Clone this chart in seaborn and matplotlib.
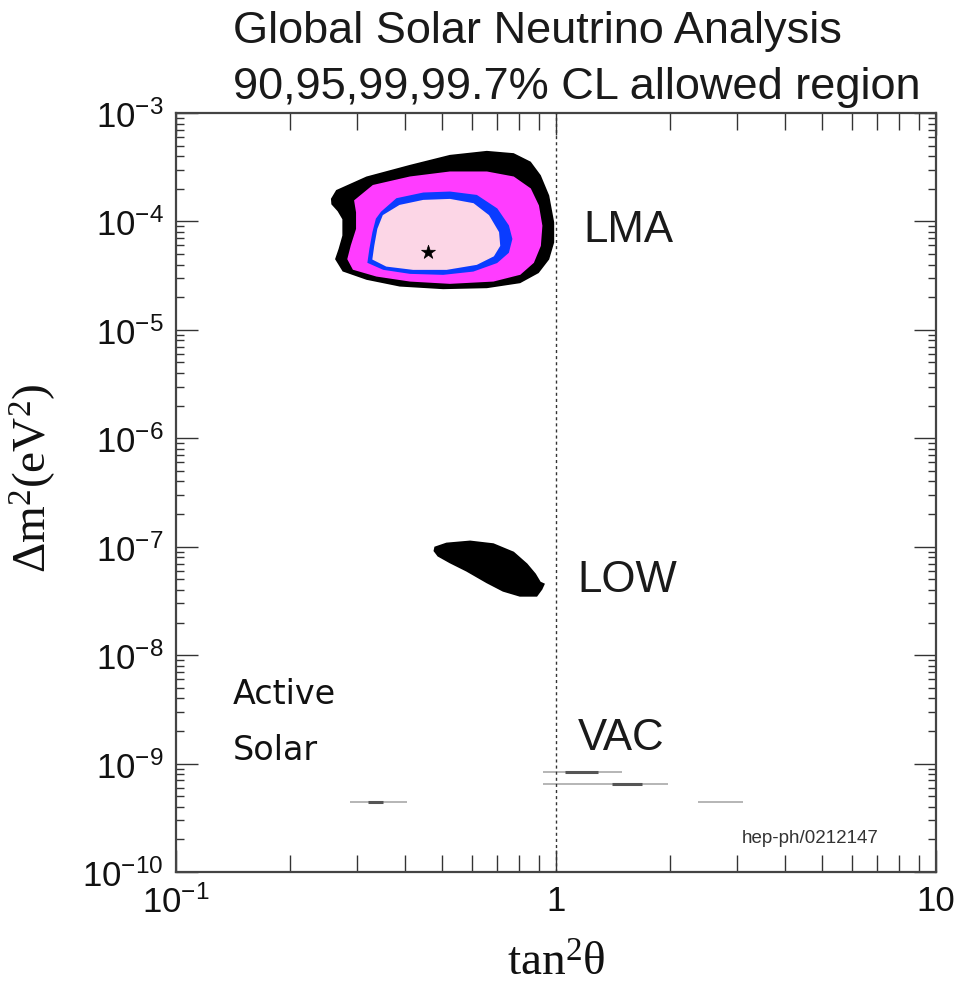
import numpy as np
import pandas as pd
import matplotlib
matplotlib.use("Agg")
import matplotlib.pyplot as plt
import seaborn as sns
from matplotlib.ticker import LogLocator, NullFormatter, FixedLocator, FixedFormatter

# ---------------- data (log10 of tan^2(theta) and of dm^2 [eV^2]) ----------------
lma997_log_tan2 = [-0.589, -0.590, -0.577, -0.498, -0.384, -0.279, -0.182, -0.112, -0.068, -0.042,
                   -0.020, -0.007, -0.007, -0.020, -0.047, -0.095, -0.182, -0.297, -0.411, -0.498,
                   -0.560, -0.579, -0.570, -0.560, -0.560, -0.573]
lma997_log_dm2 = [-3.839, -3.793, -3.717, -3.593, -3.486, -3.394, -3.357, -3.378, -3.455, -3.578,
                  -3.763, -4.008, -4.193, -4.347, -4.470, -4.562, -4.608, -4.617, -4.593, -4.531,
                  -4.455, -4.347, -4.255, -4.132, -3.978, -3.901]

lma99_log_tan2 = [-0.529, -0.481, -0.384, -0.279, -0.182, -0.112, -0.068, -0.047, -0.038, -0.042,
                  -0.060, -0.095, -0.165, -0.279, -0.384, -0.472, -0.533, -0.547, -0.538, -0.524, -0.524]
lma99_log_dm2 = [-3.809, -3.671, -3.593, -3.547, -3.547, -3.593, -3.701, -3.855, -4.040, -4.224,
                 -4.377, -4.485, -4.547, -4.568, -4.547, -4.501, -4.439, -4.347, -4.224, -4.070, -3.916]

lma95_log_tan2 = [-0.459, -0.419, -0.349, -0.279, -0.209, -0.156, -0.126, -0.117, -0.126, -0.156,
                  -0.218, -0.297, -0.384, -0.454, -0.494, -0.489, -0.481, -0.472]
lma95_log_dm2 = [-3.916, -3.793, -3.741, -3.732, -3.763, -3.886, -4.040, -4.162, -4.285, -4.377,
                 -4.455, -4.485, -4.476, -4.439, -4.377, -4.255, -4.101, -3.978]

lma90_log_tan2 = [-0.454, -0.411, -0.349, -0.279, -0.218, -0.178, -0.152, -0.149, -0.165, -0.209,
                  -0.288, -0.376, -0.446, -0.481, -0.476, -0.468]
lma90_log_dm2 = [-3.947, -3.855, -3.809, -3.800, -3.839, -3.947, -4.101, -4.224, -4.316, -4.393,
                 -4.439, -4.439, -4.409, -4.347, -4.224, -4.070]

low997_log_tan2 = [-0.318, -0.288, -0.226, -0.165, -0.112, -0.077, -0.055, -0.042, -0.032, -0.038,
                   -0.051, -0.095, -0.139, -0.182, -0.235, -0.279, -0.310, -0.320]
low997_log_dm2 = [-7.006, -6.970, -6.951, -6.976, -7.053, -7.161, -7.253, -7.329, -7.345, -7.391,
                  -7.453, -7.453, -7.407, -7.329, -7.222, -7.145, -7.084, -7.038]

best_fit_tan2 = [0.46]
best_fit_dm2 = [5.2e-5]

# VAC slivers: faint full extent and darker core
vac_log_dm2 = [-9.077, -9.190, -9.356, -9.356]
vac_log_tan2_lo = [-0.034, -0.034, -0.542, 0.374]
vac_log_tan2_hi = [0.174, 0.295, -0.392, 0.492]
vac_core_log_dm2 = [-9.077, -9.190, -9.356]
vac_core_log_tan2_lo = [0.024, 0.147, -0.495]
vac_core_log_tan2_hi = [0.111, 0.226, -0.455]

region_names = ["LMA", "LOW", "VAC"]
region_tan2 = [1.18, 1.135, 1.14]
region_dm2 = [8.5e-5, 5.0e-8, 1.75e-9]

cl_colors = {"99.7": "#000000", "99": "#ff3cff", "95": "#0a3cff", "90": "#fcd6e6"}

x_ticks = [0.1, 1, 10]
x_ticklabels = [r"$\mathdefault{10^{-1}}$", "1", "10"]

title_lines = ["Global Solar Neutrino Analysis", "90,95,99,99.7% CL allowed region"]

# ---------------- plotting ----------------
sns.set_theme(style="ticks")
plt.rcParams["font.family"] = ["Liberation Sans", "DejaVu Sans"]
plt.rcParams["mathtext.fontset"] = "custom"
plt.rcParams["mathtext.rm"] = "Liberation Serif"
plt.rcParams["mathtext.it"] = "Liberation Serif"

fig = plt.figure(figsize=(9.62, 9.95), dpi=100)
ax = fig.add_axes([176 / 962, 1 - 873 / 995, 760 / 962, 759 / 995])
ax.set_xscale("log")
ax.set_yscale("log")
ax.set_xlim(0.1, 10)
ax.set_ylim(1e-10, 1e-3)

def poly(lx, ly):
    return 10 ** np.asarray(lx), 10 ** np.asarray(ly)

for (lx, ly), key in [((lma997_log_tan2, lma997_log_dm2), "99.7"),
                      ((lma99_log_tan2, lma99_log_dm2), "99"),
                      ((lma95_log_tan2, lma95_log_dm2), "95"),
                      ((lma90_log_tan2, lma90_log_dm2), "90"),
                      ((low997_log_tan2, low997_log_dm2), "99.7")]:
    px, py = poly(lx, ly)
    ax.fill(px, py, color=cl_colors[key], lw=1.2, ec=cl_colors[key], zorder=2)

vac = pd.DataFrame({"y": 10 ** np.array(vac_log_dm2),
                    "x0": 10 ** np.array(vac_log_tan2_lo),
                    "x1": 10 ** np.array(vac_log_tan2_hi)})
ax.hlines(vac["y"], vac["x0"], vac["x1"], colors="#b0b0b0", lw=1.3, zorder=2)
vacc = pd.DataFrame({"y": 10 ** np.array(vac_core_log_dm2),
                     "x0": 10 ** np.array(vac_core_log_tan2_lo),
                     "x1": 10 ** np.array(vac_core_log_tan2_hi)})
ax.hlines(vacc["y"], vacc["x0"], vacc["x1"], colors="#555555", lw=2.2, zorder=2)

sns.scatterplot(x=best_fit_tan2, y=best_fit_dm2, marker="*", s=110, color="black",
                edgecolor="black", linewidth=0.5, ax=ax, zorder=4)

ax.axvline(1, color="#333333", lw=1.0, ls=(0, (2.2, 2.2)), zorder=3)

for name, x, y in zip(region_names, region_tan2, region_dm2):
    ax.text(x, y, name, fontsize=31.5, ha="left", va="center", color="#1a1a1a")

ax.text(0.141, 4.4e-9, "Active", fontsize=24, family="DejaVu Sans", ha="left", va="center", color="#111111")
ax.text(0.141, 1.35e-9, "Solar", fontsize=24, family="DejaVu Sans", ha="left", va="center", color="#111111")
ax.text(4.66, 2.1e-10, "hep-ph/0212147", fontsize=13.5, ha="center", va="center", color="#333333")

# ticks
ax.xaxis.set_major_locator(FixedLocator(x_ticks))
ax.xaxis.set_major_formatter(FixedFormatter(x_ticklabels))
ax.xaxis.set_minor_locator(LogLocator(base=10, subs=np.arange(2, 10)))
ax.xaxis.set_minor_formatter(NullFormatter())
ax.yaxis.set_major_locator(LogLocator(base=10, numticks=20))
ax.yaxis.set_minor_locator(LogLocator(base=10, subs=np.arange(2, 10), numticks=20))
ax.yaxis.set_minor_formatter(NullFormatter())

ax.tick_params(which="both", direction="in", top=True, right=True, color="#333333", width=1.0)
ax.tick_params(axis="y", which="major", length=16, labelsize=25, pad=9, labelcolor="#111111")
ax.tick_params(axis="y", which="minor", length=6)
ax.tick_params(axis="x", which="major", length=16, labelsize=25, pad=9, labelcolor="#111111")
ax.tick_params(axis="x", which="minor", length=12)

for s in ax.spines.values():
    s.set_linewidth(1.6)
    s.set_color("#444444")

ax.set_xlabel(r"$\mathrm{tan^2\theta}$", fontsize=34, color="#111111")
ax.xaxis.set_label_coords(0.5, -0.09)
ax.set_ylabel(r"$\mathrm{\Delta m^2(eV^2)}$", fontsize=34, color="#111111")
ax.yaxis.set_label_coords(-0.155, 0.52)

fig.text(233 / 962, 1 - 32 / 995, title_lines[0], fontsize=32.5, ha="left", va="center", color="#1a1a1a")
fig.text(233 / 962, 1 - 88 / 995, title_lines[1], fontsize=32.5, ha="left", va="center", color="#1a1a1a")

fig.savefig("out.png", dpi=100)
